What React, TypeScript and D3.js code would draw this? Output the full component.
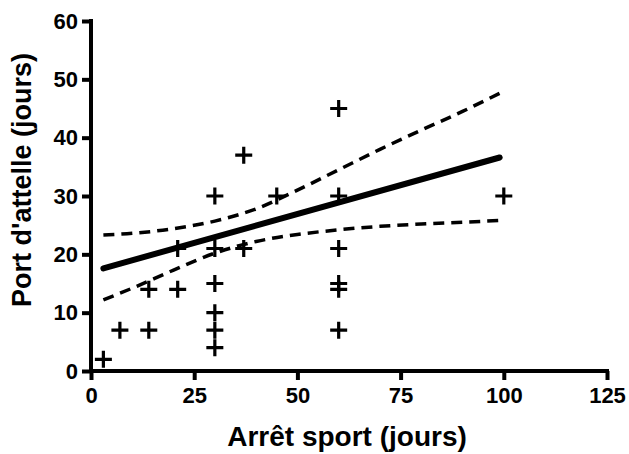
import React, { useRef, useEffect } from 'react';
import * as d3 from 'd3';

// scatter: arrêt sport (x) vs port d'attelle (y), in days
const sportDays = [3, 7, 14, 14, 21, 21, 30, 30, 30, 30, 30, 37, 30, 37, 45, 60, 60, 100, 60, 60, 60, 60];
const splintDays = [2, 7, 7, 14, 14, 21, 21, 15, 10, 7, 4, 21, 30, 37, 30, 45, 30, 30, 21, 15, 14, 7];

// regression line and its 95% band
const fitX = [3, 99];
const fitY = [17.6, 36.6];
const bandX = [3, 10, 20, 30, 40, 50, 60, 70, 80, 90, 99];
const bandUpper = [23.3, 23.6, 24.4, 25.7, 27.8, 31.0, 34.5, 38.0, 41.3, 44.5, 47.6];
const bandLower = [12.2, 14.2, 17.3, 20.2, 22.2, 23.4, 24.2, 24.8, 25.2, 25.5, 25.8];

const xTicks = [0, 25, 50, 75, 100, 125];
const yTicks = [0, 10, 20, 30, 40, 50, 60];

const FONT = '"Liberation Sans", Arial, sans-serif';

const App = () => {
  const svgRef = useRef<SVGSVGElement | null>(null);

  useEffect(() => {
    const svg = d3.select(svgRef.current);
    svg.selectAll('*').remove();

    const x = d3.scaleLinear().domain([0, 125]).range([91, 607]);
    const y = d3.scaleLinear().domain([0, 60]).range([371, 21]);

    // axes
    const xAxis = svg.append('g')
      .attr('transform', `translate(0,${y(0)})`)
      .call(d3.axisBottom(x).tickValues(xTicks).tickSize(9).tickPadding(7).tickSizeOuter(0));
    const yAxis = svg.append('g')
      .attr('transform', `translate(${x(0)},0)`)
      .call(d3.axisLeft(y).tickValues(yTicks).tickSize(9).tickPadding(4).tickSizeOuter(0));

    [xAxis, yAxis].forEach(a => {
      a.select('.domain').attr('stroke', '#000').attr('stroke-width', 4);
      a.selectAll('.tick line').attr('stroke', '#000').attr('stroke-width', 4);
      a.selectAll('.tick text')
        .attr('fill', '#000')
        .style('font-family', FONT)
        .style('font-weight', 'bold')
        .style('font-size', '22px');
    });
    // extend domain lines so the corner is filled
    xAxis.select('.domain').attr('d', `M${x(0) - 2},0H${x(125) + 2}`);
    yAxis.select('.domain').attr('d', `M0,${y(0) + 2}V${y(60) - 2}`);

    // confidence band
    const band = d3.line<number>()
      .x((_, i) => x(bandX[i]))
      .curve(d3.curveMonotoneX);
    [bandUpper, bandLower].forEach(vals => {
      svg.append('path')
        .datum(vals)
        .attr('d', band.y(d => y(d)))
        .attr('fill', 'none')
        .attr('stroke', '#000')
        .attr('stroke-width', 3.5)
        .attr('stroke-dasharray', '11,7');
    });

    // fit line
    svg.append('path')
      .datum(fitY)
      .attr('d', d3.line<number>().x((_, i) => x(fitX[i])).y(d => y(d)))
      .attr('stroke', '#000')
      .attr('stroke-width', 6)
      .attr('stroke-linecap', 'round');

    // plus markers
    svg.append('g')
      .selectAll('path')
      .data(sportDays)
      .join('path')
      .attr('transform', (d, i) => `translate(${x(d)},${y(splintDays[i])})`)
      .attr('d', 'M-8.5,0H8.5M0,-8.5V8.5')
      .attr('stroke', '#000')
      .attr('stroke-width', 3.2);

    // axis titles
    svg.append('text')
      .attr('x', 347)
      .attr('y', 446)
      .attr('text-anchor', 'middle')
      .style('font-family', FONT)
      .style('font-weight', 'bold')
      .style('font-size', '28px')
      .text('Arrêt sport (jours)');

    svg.append('text')
      .attr('transform', 'translate(31,180) rotate(-90)')
      .attr('text-anchor', 'middle')
      .style('font-family', FONT)
      .style('font-weight', 'bold')
      .style('font-size', '27px')
      .text("Port d'attelle (jours)");
  }, []);

  return (
    <svg
      ref={svgRef}
      width={629}
      height={454}
      style={{ position: 'absolute', left: 0, top: 0, background: '#fff' }}
    />
  );
};

export default App;
